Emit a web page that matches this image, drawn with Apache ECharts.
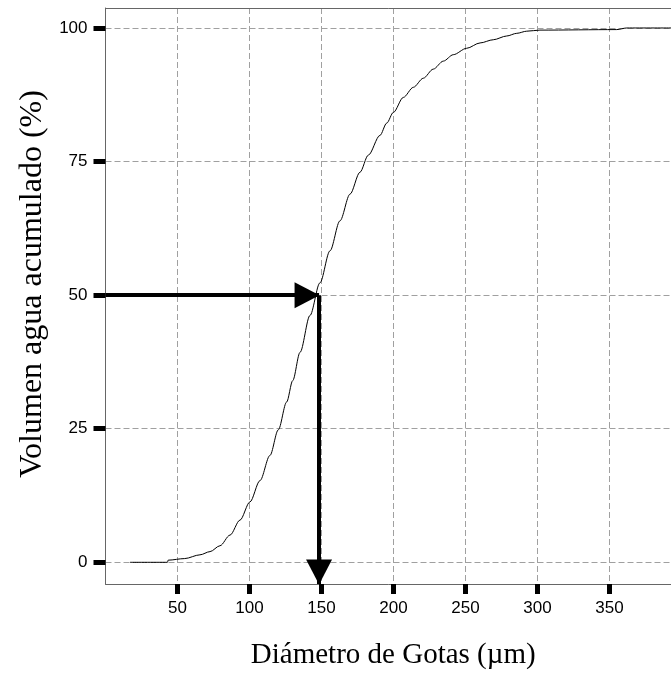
<!DOCTYPE html>
<html>
<head>
<meta charset="utf-8">
<script src="https://cdn.jsdelivr.net/npm/echarts@6/dist/echarts.min.js"></script>
<style>
  html, body { margin: 0; padding: 0; background: #fff; }
  #chart { width: 671px; height: 675px; }
</style>
</head>
<body>
<div id="chart"></div>
<script>
// diámetro de gotas (µm) y volumen acumulado (%)
const diameters = [17, 43, 43.5, 55, 65.6, 72.6, 79.5, 86.5, 93.4, 100.3, 107.3, 114.2, 120, 125.8, 130, 135.1, 142, 148.9, 155.9, 162.8, 169.8, 176.7, 182.5, 190.6, 195.3, 199.9, 206.8, 213.8, 220.7, 227.6, 234.6, 241.5, 250.8, 260.1, 269.3, 278.6, 285.6, 292.5, 301.7, 355, 362, 393];
const cumulative = [0, 0, 0.4, 0.7, 1.4, 2.0, 3.1, 5.1, 7.9, 11.3, 15.3, 20.0, 24.8, 30.0, 34.0, 39.3, 46.2, 52.3, 58.3, 63.9, 68.9, 73.0, 76.2, 79.9, 82.2, 84.2, 87.0, 88.9, 90.6, 92.3, 93.8, 95.0, 96.2, 97.2, 97.8, 98.5, 99.0, 99.4, 99.6, 99.7, 100, 100];

const xTicks = [50, 100, 150, 200, 250, 300, 350];
const yTicks = [0, 25, 50, 75, 100];

// D50: diámetro a la mitad del volumen
const d50 = 148.3;
const half = 50;

const xMin = 0, xMax = 392.7;
const yMin = -4.06, yMax = 103.74;

const chart = echarts.init(document.getElementById("chart"));

const gridDash = { color: "#a0a0a0", width: 1, type: [6, 3] };
const tickStyle = { color: "#000", width: 5 };

const options = {
  animation: false,
  grid: { left: 105.5, right: 0, top: 8, bottom: 91 },
  xAxis: [
    {
      type: "value",
      min: xMin,
      max: xMax,
      position: "bottom",
      name: "Diámetro de Gotas (µm)",
      nameLocation: "middle",
      nameGap: 57,
      nameTextStyle: {
        fontFamily: "Liberation Serif",
        fontSize: 29,
        color: "#000",
        padding: [0, 0, 0, 10],
      },
      axisLine: { show: true, onZero: false, lineStyle: { color: "#666", width: 1 } },
      axisTick: { show: true, length: 10, customValues: xTicks, lineStyle: tickStyle },
      axisLabel: {
        customValues: xTicks,
        margin: 16,
        fontFamily: "Liberation Sans",
        fontSize: 17,
        color: "#000",
      },
      splitLine: { show: true, lineStyle: gridDash },
    },
    {
      type: "value",
      min: xMin,
      max: xMax,
      position: "top",
      axisLine: { show: true, onZero: false, lineStyle: { color: "#666", width: 1 } },
      axisTick: { show: false },
      axisLabel: { show: false },
      splitLine: { show: false },
    },
  ],
  yAxis: {
    type: "value",
    min: yMin,
    max: yMax,
    name: "Volumen agua acumulado (%)",
    nameLocation: "middle",
    nameGap: 57,
    nameTextStyle: {
      fontFamily: "Liberation Serif",
      fontSize: 32,
      color: "#000",
      padding: [0, 0, 0, 24],
    },
    axisLine: { show: true, onZero: false, lineStyle: { color: "#666", width: 1 } },
    axisTick: { show: true, length: 12, customValues: yTicks, lineStyle: tickStyle },
    axisLabel: {
      customValues: yTicks,
      margin: 18,
      fontFamily: "Liberation Sans",
      fontSize: 17,
      color: "#000",
    },
    splitLine: { show: true, lineStyle: gridDash },
  },
  series: [
    {
      type: "line",
      data: diameters.map((d, i) => [d, cumulative[i]]),
      showSymbol: false,
      smooth: 0.3,
      smoothMonotone: "x",
      lineStyle: { color: "#000", width: 1 },
      silent: true,
      markLine: {
        silent: true,
        symbol: ["none", "triangle"],
        symbolSize: [26, 25],
        symbolOffset: [0, [0, 12]],
        label: { show: false },
        lineStyle: { color: "#000", width: 4, type: "solid" },
        itemStyle: { color: "#000" },
        emphasis: { disabled: true },
        data: [
          [{ coord: [xMin, half] }, { coord: [d50, half] }],
          [{ coord: [d50, half] }, { coord: [d50, yMin] }],
        ],
      },
    },
  ],
};

chart.setOption(options);
</script>
</body>
</html>
